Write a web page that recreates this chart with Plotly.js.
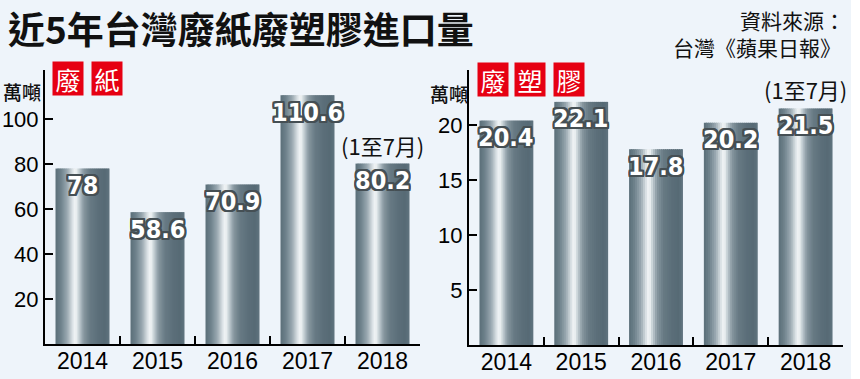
<!DOCTYPE html>
<html>
<head>
<meta charset="utf-8">
<script src="https://cdn.plot.ly/plotly-3.0.1.min.js"></script>
<style>html,body{margin:0;padding:0;background:#eef4fa;}</style>
</head>
<body>
<div id="chart" style="width:860px;height:379px;"></div>
<script>
// ---- data ----
const years = ['2014', '2015', '2016', '2017', '2018'];
const paperWaste = [78, 58.6, 70.9, 110.6, 80.2];      // 廢紙 萬噸
const plasticWaste = [20.4, 22.1, 17.8, 20.2, 21.5];   // 廢塑膠 萬噸
const paperTicks = [20, 40, 60, 80, 100];
const plasticTicks = [5, 10, 15, 20];
const partialYearNote = '(1至7月)';
const titleText = '近5年台灣廢紙廢塑膠進口量';

// ---- styling helpers ----
const W = 860, H = 379;
const px = x => x / W;
const py = y => 1 - y / H;
const CJK = '"Noto Sans CJK TC", "Noto Sans CJK SC", sans-serif';
const NUM = '"Liberation Sans", Arial, sans-serif';
const NARROW = '"Liberation Sans Narrow", "DejaVu Sans Condensed", "Liberation Sans", sans-serif';
const paperMax = 121.8, plasticMax = 25;

// silver cylinder gradient stops (position across bar, colour)
const stops = [
  [0.00, [90, 110, 121]],
  [0.10, [110, 129, 139]],
  [0.22, [155, 170, 178]],
  [0.31, [215, 223, 227]],
  [0.37, [247, 249, 250]],
  [0.43, [200, 210, 215]],
  [0.52, [135, 151, 160]],
  [0.64, [104, 122, 132]],
  [0.80, [91, 110, 121]],
  [0.92, [86, 106, 117]],
  [1.00, [96, 116, 127]]
];
function gradColor(t) {
  for (let i = 1; i < stops.length; i++) {
    if (t <= stops[i][0]) {
      const [t0, c0] = stops[i - 1], [t1, c1] = stops[i];
      const f = (t - t0) / (t1 - t0);
      const c = c0.map((v, k) => Math.round(v + (c1[k] - v) * f));
      return `rgb(${c[0]},${c[1]},${c[2]})`;
    }
  }
  const c = stops[stops.length - 1][1];
  return `rgb(${c[0]},${c[1]},${c[2]})`;
}

const BW = 0.72, N = 27;
const traces = [];
function addBars(values, xa, ya) {
  for (let i = 0; i < N; i++) {
    const step = BW / N;
    const off = -BW / 2 + i * step;
    const w = i === N - 1 ? step : step * 1.6;
    traces.push({
      type: 'bar', x: years, y: values, xaxis: xa, yaxis: ya,
      offset: off, width: w,
      marker: {color: gradColor((i + 0.5) / N), line: {width: 0}},
      hoverinfo: 'skip', showlegend: false
    });
  }
}
addBars(paperWaste, 'x', 'y');
addBars(plasticWaste, 'x2', 'y2');

const outline = '#454f54';
const shadow = [[-2,-2],[2,-2],[-2,2],[2,2],[0,2],[0,-2],[2,0],[-2,0],[-1,-2],[1,-2],[-1,2],[1,2],[-2,-1],[-2,1],[2,-1],[2,1]]
  .map(([a, b]) => `${a}px ${b}px 0 ${outline}`).join(', ');

const annotations = [];
function valueLabels(values, xr, yr) {
  values.forEach((v, i) => {
    annotations.push({
      x: i, y: v, xref: xr, yref: yr, text: String(v),
      showarrow: false, yanchor: 'middle', xanchor: 'center', yshift: -17,
      font: {family: NARROW, size: 25, weight: 'bold', color: '#ffffff', shadow: shadow}
    });
  });
  annotations.push({
    x: 4, y: values[4], xref: xr, yref: yr, text: partialYearNote,
    showarrow: false, yanchor: 'middle', xanchor: 'center', yshift: 19,
    font: {family: CJK, size: 22, color: '#111111'}
  });
}
valueLabels(paperWaste, 'x', 'y');
valueLabels(plasticWaste, 'x2', 'y2');

function redBox(ch, cx, cy) {
  annotations.push({
    x: px(cx), y: py(cy), xref: 'paper', yref: 'paper', text: ch, showarrow: false,
    xanchor: 'center', yanchor: 'middle', width: 30, height: 33, bgcolor: '#e60012',
    borderpad: 0, font: {family: CJK, size: 25, color: '#ffffff'}
  });
}
redBox('廢', 68, 78.5); redBox('紙', 106.5, 78.5);
redBox('廢', 493, 79.5); redBox('塑', 530, 79.5); redBox('膠', 568.5, 79.5);

function plainText(t, cx, cy, size, anchor, weight) {
  annotations.push({
    x: px(cx), y: py(cy), xref: 'paper', yref: 'paper', text: t, showarrow: false,
    xanchor: anchor || 'center', yanchor: 'middle',
    font: {family: CJK, size: size, color: '#111111', weight: weight || 'normal'}
  });
}
plainText('萬噸', 22, 92, 19, 'center', 500);
plainText('萬噸', 449, 93, 19, 'center', 500);
plainText('資料來源：', 847, 20, 21, 'right');
plainText('台灣《蘋果日報》', 843, 47, 21, 'right');

const xCommon = {
  type: 'category', range: [-0.5, 4.5], showline: true, linecolor: '#000', linewidth: 2,
  ticks: 'inside', tickson: 'boundaries', ticklen: 8, tickwidth: 2, tickcolor: '#000',
  showgrid: false, zeroline: false, fixedrange: true, ticklabelstandoff: -5,
  tickfont: {family: NUM, size: 23, color: '#000'}
};
const yCommon = {
  showline: true, linecolor: '#000', linewidth: 2, ticks: 'inside', ticklen: 8, tickwidth: 2,
  tickcolor: '#000', showgrid: false, zeroline: false, fixedrange: true,
  tickfont: {family: NUM, size: 22, color: '#000'}, tickmode: 'array'
};

const layout = {
  width: W, height: H, margin: {l: 0, r: 0, t: 0, b: 0},
  paper_bgcolor: '#eef4fa', plot_bgcolor: 'rgba(0,0,0,0)',
  barmode: 'overlay', showlegend: false,
  title: {
    text: titleText, x: px(8), xanchor: 'left', xref: 'paper', y: py(31), yanchor: 'middle', yref: 'paper',
    font: {family: CJK, size: 37, weight: 'bold', color: '#111111'}
  },
  xaxis: Object.assign({}, xCommon, {domain: [px(45), px(420)], anchor: 'y'}),
  yaxis: Object.assign({}, yCommon, {
    domain: [1 - 344 / H, 1 - 70 / H], range: [0, paperMax], anchor: 'x',
    tickvals: paperTicks.concat([paperMax]), ticktext: paperTicks.map(String).concat([''])
  }),
  xaxis2: Object.assign({}, xCommon, {domain: [px(469), px(843)], anchor: 'y2'}),
  yaxis2: Object.assign({}, yCommon, {
    domain: [1 - 345 / H, 1 - 70 / H], range: [0, plasticMax], anchor: 'x2',
    tickvals: plasticTicks.concat([plasticMax]), ticktext: plasticTicks.map(String).concat([''])
  }),
  shapes: [{type: 'rect', xref: 'paper', yref: 'paper', x0: px(851), x1: 1, y0: 0, y1: 1,
    fillcolor: '#ffffff', line: {width: 0}, layer: 'below'}],
  annotations: annotations
};

Plotly.newPlot('chart', traces, layout, {displayModeBar: false, staticPlot: true});
</script>
</body>
</html>
